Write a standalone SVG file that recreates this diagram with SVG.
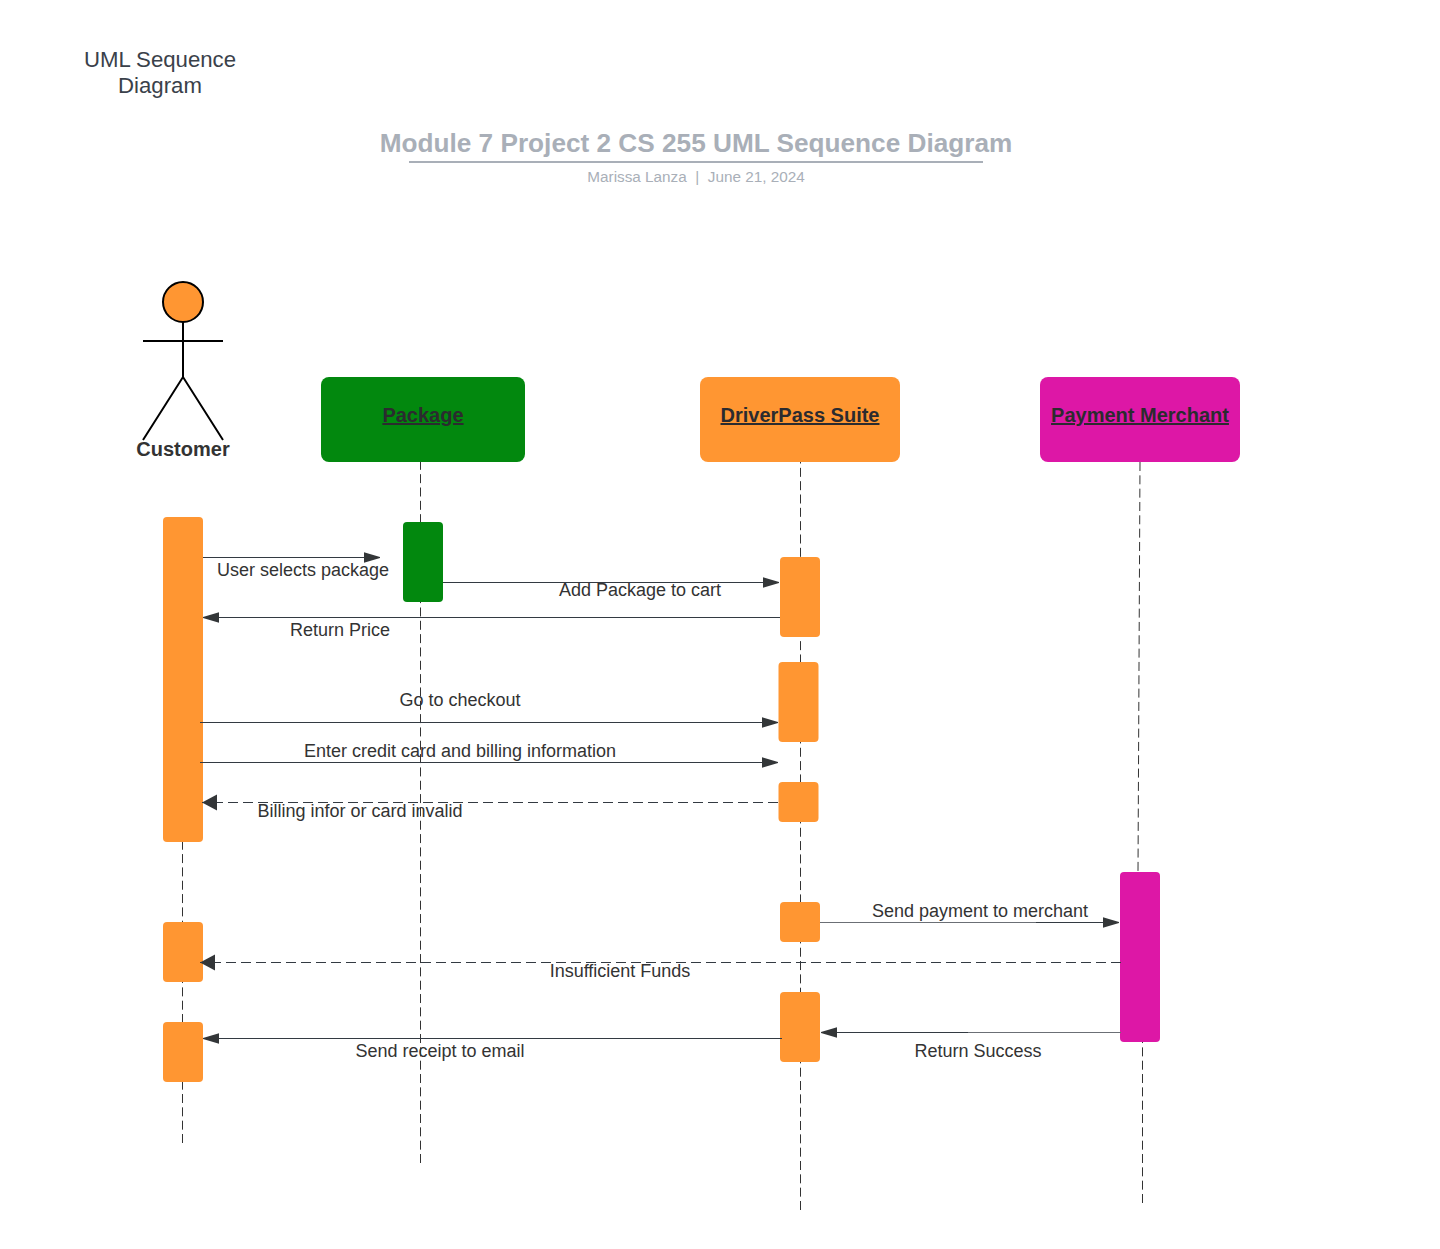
<svg xmlns="http://www.w3.org/2000/svg" width="1440" height="1249" viewBox="0 0 1440 1249">
<defs>
<marker id="arr" markerUnits="userSpaceOnUse" markerWidth="18" markerHeight="14" refX="16" refY="6" orient="auto"><path d="M0 0.700L16 5.500V6.500L0 11.300Z" fill="#333638"/></marker>
<marker id="arrb" markerUnits="userSpaceOnUse" markerWidth="18" markerHeight="18" refX="15" refY="8" orient="auto"><path d="M0 0L15 8L0 16Z" fill="#333638"/></marker>
</defs>
<style>
text{font-family:"Liberation Sans",Arial,sans-serif;fill:#333;text-anchor:middle}
.lbl{font-size:18px}
.hd{font-size:20px;font-weight:bold;text-decoration:underline;fill:#2b2b2f}
.life{fill:none;stroke:#333;stroke-width:1;stroke-dasharray:9 4.330}
.msg{fill:none;stroke:#333a42;stroke-width:1}
.soft{fill:none;stroke:#6b6f75;stroke-width:1}
.dash{stroke-dasharray:10 5}
.o{fill:#ff9632}.g{fill:#02880e}.m{fill:#dd17a6}
.st{fill:none;stroke:#000;stroke-width:2}
</style>
<rect width="1440" height="1249" fill="#fff"/>
<g id="connectors">
<path class="life" d="M182.500 1143V842"/>
<path class="life" d="M420.500 1163V462"/>
<path class="life" d="M800.500 1210V462"/>
<path class="life" d="M1140 462L1138 872"/>
<path class="life" d="M1142.500 1203V1042"/>
</g>
<g id="title-note"><text x="160" y="67" font-size="22.200" style="fill:#3a414a">UML Sequence</text><text x="160" y="93" font-size="22.200" style="fill:#3a414a">Diagram</text></g>
<g id="title">
<text x="696" y="152" font-size="26.200" font-weight="bold" style="fill:#a9afb8">Module 7 Project 2 CS 255 UML Sequence Diagram</text>
<rect x="409" y="161" width="574" height="2" fill="#a9afb8"/>
<text x="696" y="182" font-size="15.300" style="fill:#a9afb8;white-space:pre">Marissa Lanza  |  June 21, 2024</text>
</g>
<g id="customer">
<circle class="o" cx="183" cy="302" r="20" stroke="#000" stroke-width="2"/>
<path class="st" d="M183 322V377M143 341H223M143 440L183 377L223 440"/>
<text x="183" y="456" font-size="20" font-weight="bold">Customer</text>
</g>
<g id="package"><rect class="g" x="321" y="377" width="204" height="85" rx="8"/><text class="hd" x="423" y="422">Package</text></g>
<g id="driverpass"><rect class="o" x="700" y="377" width="200" height="85" rx="8"/><text class="hd" x="800" y="422">DriverPass Suite</text></g>
<g id="merchant"><rect class="m" x="1040" y="377" width="200" height="85" rx="8"/><text class="hd" x="1140" y="422">Payment Merchant</text></g>
<g id="activations">
<rect class="o" x="163" y="517" width="40" height="325" rx="4"/>
<rect class="g" x="403" y="522" width="40" height="80" rx="4"/>
<rect class="o" x="780" y="557" width="40" height="80" rx="4"/>
<rect class="o" x="778.500" y="662" width="40" height="80" rx="4"/>
<rect class="o" x="778.500" y="782" width="40" height="40" rx="4"/>
<rect class="o" x="780" y="902" width="40" height="40" rx="4"/>
<rect class="o" x="780" y="992" width="40" height="70" rx="4"/>
<rect class="o" x="163" y="922" width="40" height="60" rx="4"/>
<rect class="o" x="163" y="1022" width="40" height="60" rx="4"/>
<rect class="m" x="1120" y="872" width="40" height="170" rx="4"/>
</g>
<g id="messages">
<path class="msg" d="M203 557.500H380" marker-end="url(#arr)"/>
<path class="msg" d="M443 582.500H779" marker-end="url(#arr)"/>
<path class="msg" d="M780 617.500H203" marker-end="url(#arr)"/>
<path class="msg" d="M200 722.500H778" marker-end="url(#arr)"/>
<path class="msg" d="M200 762.500H778" marker-end="url(#arr)"/>
<path class="msg dash" d="M778 802.500H202" marker-end="url(#arrb)"/>
<path class="soft" d="M820 922.500H1036"/>
<path class="msg" d="M1036 922.500H1119" marker-end="url(#arr)"/>
<path class="msg dash" d="M1121 962.500H200" marker-end="url(#arrb)"/>
<path class="soft" d="M1121 1032.500H968"/>
<path class="msg" d="M968 1032.500H821" marker-end="url(#arr)"/>
<path class="msg" d="M782 1038.500H203" marker-end="url(#arr)"/>
</g>
<g id="labels">
<text class="lbl" x="303" y="575.700">User selects package</text>
<text class="lbl" x="640" y="595.700">Add Package to cart</text>
<text class="lbl" x="340" y="635.700">Return Price</text>
<text class="lbl" x="460" y="705.700">Go to checkout</text>
<text class="lbl" x="460" y="756.500">Enter credit card and billing information</text>
<text class="lbl" x="360" y="816.500">Billing infor or card invalid</text>
<text class="lbl" x="980" y="916.500">Send payment to merchant</text>
<text class="lbl" x="620" y="976.500">Insufficient Funds</text>
<text class="lbl" x="978" y="1056.500">Return Success</text>
<text class="lbl" x="440" y="1056.500">Send receipt to email</text>
</g>
</svg>
